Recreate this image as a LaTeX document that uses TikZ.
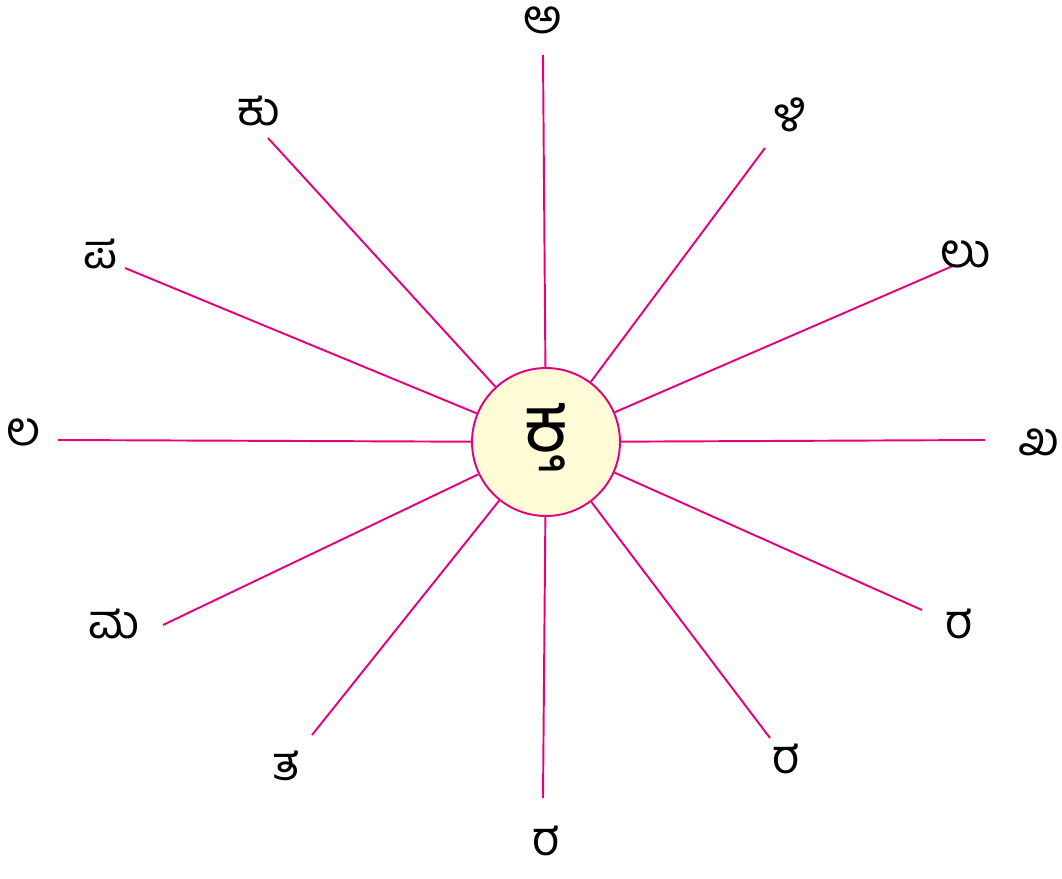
\documentclass[tikz,border=0pt]{standalone}
\usepackage{fontspec}
\newfontfamily\kan[Script=Kannada]{Hind Mysuru}
\definecolor{spokecol}{RGB}{230,0,126}
\definecolor{hubfill}{RGB}{255,251,214}
\begin{document}
\begin{tikzpicture}[x=0.02cm,y=-0.02cm]
            \useasboundingbox (0,0) rectangle (1062,879);
            \tikzset{spoke/.style={draw=spokecol, line width=1.1pt},
                     lbl/.style={font=\kan\fontsize{27}{27}\selectfont, inner sep=0pt}}
            \node[circle, draw=spokecol, fill=hubfill, line width=1.1pt, minimum size=2.96cm, inner sep=0pt] (hub) at (546,442) {};
            \node[font=\kan\fontsize{44}{44}\selectfont, inner sep=0pt] (word) at (546,437) {ಕ್ತ};
            \coordinate (e1) at (543,55);
            \coordinate (e2) at (765,148);
            \coordinate (e3) at (955,265);
            \coordinate (e4) at (985,440);
            \coordinate (e5) at (922,610);
            \coordinate (e6) at (770,738);
            \coordinate (e7) at (543,798);
            \coordinate (e8) at (312,735);
            \coordinate (e9) at (163,625);
            \coordinate (e10) at (58,440);
            \coordinate (e11) at (125,268);
            \coordinate (e12) at (268,138);
            \foreach \i in {1,...,12} \draw[spoke] (hub) -- (e\i);
            \node[lbl] (l1) at (543,20) {ಅ};
            \node[lbl] (l2) at (790,115) {ಳಿ};
            \node[lbl] (l3) at (966,254) {ಲು};
            \node[lbl] (l4) at (1039,442) {ಖ};
            \node[lbl] (l5) at (959,624) {ರ};
            \node[lbl] (l6) at (786,759) {ರ};
            \node[lbl, text depth=0pt, anchor=south] (l7) at (546,856) {ರ};
            \node[lbl] (l8) at (286,766) {ತ};
            \node[lbl] (l9) at (114,624) {ಮ};
            \node[lbl] (l10) at (24,432) {ಲ};
            \node[lbl] (l11) at (100,254) {ಪ};
            \node[lbl] (l12) at (259,111) {ಕು};
        \end{tikzpicture}
\end{document}
